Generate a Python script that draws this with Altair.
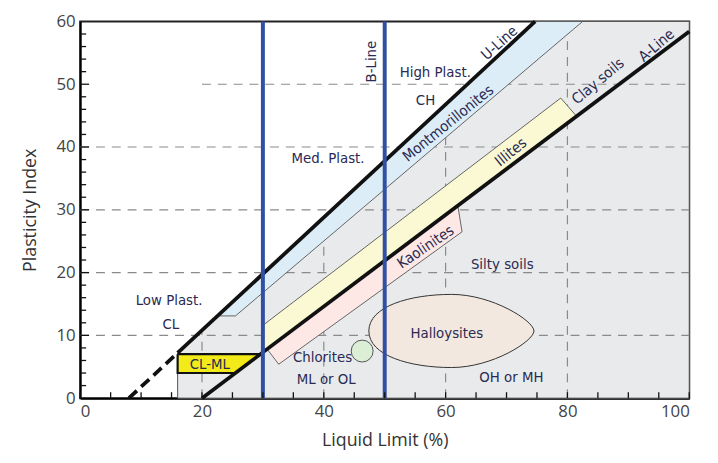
import altair as alt
import pandas as pd

# ---------------- data ----------------
x_label_values = [0, 20, 40, 60, 80, 100]
y_label_values = [0, 10, 20, 30, 40, 50, 60]
x_minor_ticks = [0, 5, 10, 15, 20, 25, 30, 35, 40, 45, 50, 55, 60, 65, 70, 75, 80, 85, 90, 95, 100]
y_minor_ticks = [2, 4, 6, 8, 12, 14, 16, 18, 22, 24, 26, 28, 32, 34, 36, 38, 42, 44, 46, 48, 52, 54, 56, 58]
y_major_ticks = [10, 20, 30, 40, 50]

# horizontal dashed grid (PI level, from LL, to LL)
hgrid_pi = [10, 20, 30, 40, 50]
hgrid_from = [0, 0, 0, 0, 20]
hgrid_to = [100, 100, 100, 100, 100]
# vertical dashed grid (LL, top PI)
vgrid_ll = [20, 40, 60, 80]
vgrid_top = [10.5, 28.8, 46.8, 60]

# chart lines
u_line_ll = [16, 74.7]
u_line_pi = [7.2, 60]
u_dash_ll = [8, 16]
u_dash_pi = [0, 7.2]
a_line_ll = [20, 100]
a_line_pi = [0, 58.4]
b_lines_ll = [30, 50]

# regions (polygon vertices)
grey_ll = [16, 16, 74.7, 100, 100]
grey_pi = [0, 7.2, 60, 60, 0]
mont_ll = [22.6, 74.7, 82.5, 25.5]
mont_pi = [13.1, 60, 60, 13.1]
illite_ll = [30, 78.9, 81.5, 30]
illite_pi = [11.6, 47.8, 44.9, 7.3]
kaol_ll = [30.7, 62.0, 62.7, 32.6]
kaol_pi = [7.8, 30.7, 26.5, 5.4]
clml_ll = [16, 29.6, 25.5, 16]
clml_pi = [7.0, 7.0, 4.0, 4.0]

chlorite_ll = [46.3]
chlorite_pi = [7.5]
halloy_ll = [60.95]
halloy_pi = [10.7]

# labels
flat_text = ["Low Plast.", "CL", "Med. Plast.", "High Plast.", "CH", "Silty soils",
             "Halloysites", "Chlorites", "ML or OL", "OH or MH", "CL-ML"]
flat_ll = [14.6, 14.9, 40.7, 58.3, 56.7, 69.3, 60.2, 39.8, 40.4, 70.8, 21.3]
flat_pi = [15.7, 11.8, 38.3, 52.0, 47.5, 21.3, 10.4, 6.6, 3.0, 3.3, 5.4]

# ---------------- style ----------------
W, H = 616, 381
FONT = "DejaVu Sans Condensed, Liberation Sans Narrow, Roboto, sans-serif"
AXFONT = "Open Sans"
TXT = "#2a2a52"

xs = alt.Scale(domain=[0, 100], nice=False, zero=False)
ys = alt.Scale(domain=[0, 60], nice=False, zero=False)
xaxis = alt.Axis(values=x_label_values, ticks=False, grid=False, domainColor="black",
                 domainWidth=2, labelFontSize=17, labelColor="#444", labelFont=AXFONT,
                 labelPadding=6, title="Liquid Limit (%)", titleFontSize=18,
                 titleFontWeight="normal", titleColor="#333", titleFont=AXFONT, titlePadding=12)
yaxis = alt.Axis(values=y_label_values, ticks=False, grid=False, domainColor="black",
                 domainWidth=2, labelFontSize=17, labelColor="#444", labelFont=AXFONT,
                 labelPadding=5, title="Plasticity Index", titleFontSize=18,
                 titleFontWeight="normal", titleColor="#333", titleFont=AXFONT, titlePadding=17)


def X(f):
    return alt.X(f, type="quantitative", scale=xs, axis=xaxis)


def Y(f):
    return alt.Y(f, type="quantitative", scale=ys, axis=yaxis)


def poly(ll, pi, fill, stroke="#555", sw=0.9):
    df = pd.DataFrame({"ll": ll + [ll[0]], "pi": pi + [pi[0]], "o": list(range(len(ll) + 1))})
    return alt.Chart(df).mark_line(fill=fill, stroke=stroke, strokeWidth=sw,
                                   strokeJoin="miter").encode(
        x=X("ll"), y=Y("pi"), order=alt.Order("o:Q"))


def seg(ll, pi, color="black", sw=3.5, dash=None):
    df = pd.DataFrame({"ll": ll, "pi": pi})
    kw = dict(color=color, strokeWidth=sw, strokeCap="butt")
    if dash:
        kw["strokeDash"] = dash
    return alt.Chart(df).mark_line(**kw).encode(x=X("ll"), y=Y("pi"))


def label(text, ll, pi, angle=0, size=15):
    df = pd.DataFrame({"t": [text], "ll": [ll], "pi": [pi]})
    return alt.Chart(df).mark_text(font=FONT, fontSize=size, color=TXT, angle=angle,
                                   baseline="middle", align="center").encode(
        x=X("ll"), y=Y("pi"), text="t:N")


layers = []
layers.append(poly(grey_ll, grey_pi, "#e9eaec", "#555", 1.0))

hg = pd.DataFrame({"pi": hgrid_pi, "a": hgrid_from, "b": hgrid_to})
layers.append(alt.Chart(hg).mark_rule(color="#8a8a8a", strokeWidth=1.2, strokeDash=[9, 7]).encode(
    y=Y("pi"), x=X("a"), x2="b"))
vg = pd.DataFrame({"ll": vgrid_ll, "top": vgrid_top, "z": [0] * len(vgrid_ll)})
layers.append(alt.Chart(vg).mark_rule(color="#8a8a8a", strokeWidth=1.2, strokeDash=[9, 7]).encode(
    x=X("ll"), y=Y("z"), y2="top"))

layers.append(poly(mont_ll, mont_pi, "#dcedf8"))
layers.append(poly(illite_ll, illite_pi, "#fbf9d3"))
layers.append(poly(kaol_ll, kaol_pi, "#fde8e6"))
layers.append(poly(clml_ll, clml_pi, "#f3ea1a", "#111", 2.2))

chl = pd.DataFrame({"ll": chlorite_ll, "pi": chlorite_pi})
layers.append(alt.Chart(chl).mark_point(shape="circle", filled=True, fill="#dcefd6",
                                        stroke="#555", strokeWidth=1, size=490, opacity=1).encode(
    x=X("ll"), y=Y("pi")))
egg = ("M -1 0 C -1 -0.3 -0.5 -0.443 0 -0.443 C 0.5 -0.443 1 -0.12 1 0 "
       "C 1 0.12 0.5 0.443 0 0.443 C -0.5 0.443 -1 0.3 -1 0 Z")
hal = pd.DataFrame({"ll": halloy_ll, "pi": halloy_pi})
layers.append(alt.Chart(hal).mark_point(shape=egg, filled=True, fill="#f2e8e0", stroke="#333",
                                        strokeWidth=1, size=27889, opacity=1).encode(
    x=X("ll"), y=Y("pi")))

layers.append(seg(u_line_ll, u_line_pi, "#111", 3.8))
layers.append(seg(u_dash_ll, u_dash_pi, "#111", 3.8, [11, 6]))
layers.append(seg(a_line_ll, a_line_pi, "#111", 3.8))

bl = pd.DataFrame({"ll": b_lines_ll, "z": [0, 0], "top": [60, 60]})
layers.append(alt.Chart(bl).mark_rule(color="#3050a3", strokeWidth=4).encode(
    x=X("ll"), y=Y("z"), y2="top"))

xt = pd.DataFrame({"ll": x_minor_ticks})
layers.append(alt.Chart(xt).mark_rule(color="#111", strokeWidth=1.3).encode(
    x=X("ll"), y=alt.value(H), y2=alt.value(H - 6)))
ytm = pd.DataFrame({"pi": y_minor_ticks})
layers.append(alt.Chart(ytm).mark_rule(color="#111", strokeWidth=1.3).encode(
    y=Y("pi"), x=alt.value(0), x2=alt.value(6)))
ytM = pd.DataFrame({"pi": y_major_ticks})
layers.append(alt.Chart(ytM).mark_rule(color="#111", strokeWidth=1.3).encode(
    y=Y("pi"), x=alt.value(0), x2=alt.value(9)))

for t, l, p in zip(flat_text, flat_ll, flat_pi):
    layers.append(label(t, l, p))
layers.append(label("B-Line", 47.7, 53.6, 270))
layers.append(label("U-Line", 68.8, 56.6, 318))
layers.append(label("Montmorillonites", 60.4, 43.8, 321))
layers.append(label("A-Line", 94.6, 56.2, 320))
layers.append(label("Clay soils", 85.0, 50.5, 320))
layers.append(label("Illites", 70.7, 39.2, 321))
layers.append(label("Kaolinites", 56.7, 24.1, 326))

chart = alt.layer(*layers).properties(
    width=W, height=H,
    autosize=alt.AutoSizeParams(type="none"),
    padding={"left": 73, "top": 11, "right": 21, "bottom": 63},
    background="white",
).configure_view(stroke="#222", strokeWidth=2)

chart.save("out.html", embed_options={"renderer": "svg", "actions": False})
